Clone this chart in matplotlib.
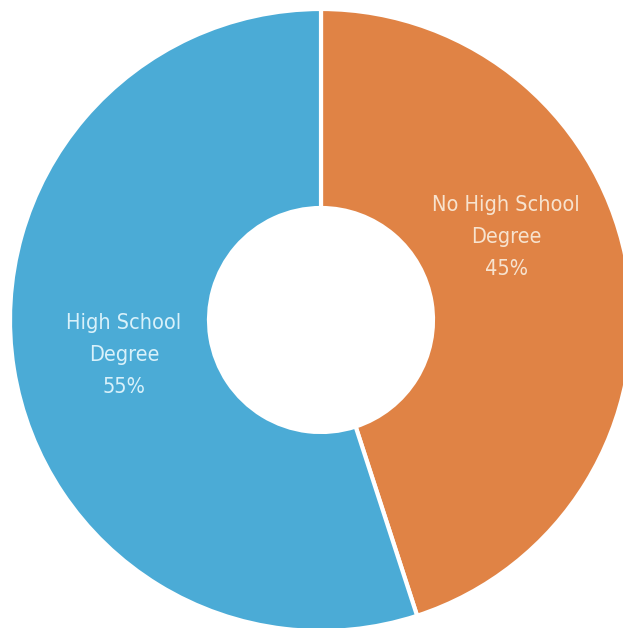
import matplotlib
matplotlib.use('Agg')
import matplotlib.pyplot as plt

labels = ["No High School\nDegree\n45%", "High School\nDegree\n55%"]
shares = [45, 55]
colors = ["#E08345", "#4BABD6"]
text_colors = ["#F7E3CF", "#D9F1FA"]
# label positions in pixel coordinates (x, y from top)
label_pos = [(506, 237), (124, 355)]

W, H = 623, 628
fig = plt.figure(figsize=(W / 100, H / 100), dpi=100)
ax = fig.add_axes([0, 0, 1, 1])

cx, cy = 321, H - 320
outer_r = 311
inner_r = 112

ax.pie(shares, colors=colors, startangle=90, counterclock=False,
       center=(cx, cy), radius=outer_r,
       wedgeprops=dict(width=outer_r - inner_r, edgecolor="white", linewidth=3))

for lab, (px, py), tc in zip(labels, label_pos, text_colors):
    ax.text(px, H - py, lab, ha="center", va="center", color=tc,
            fontsize=15.5, linespacing=1.78, fontstretch="condensed",
            family="DejaVu Sans")

ax.set_xlim(0, W)
ax.set_ylim(0, H)
ax.set_aspect("equal")
ax.axis("off")

fig.savefig("out.png", dpi=100, facecolor="white")
